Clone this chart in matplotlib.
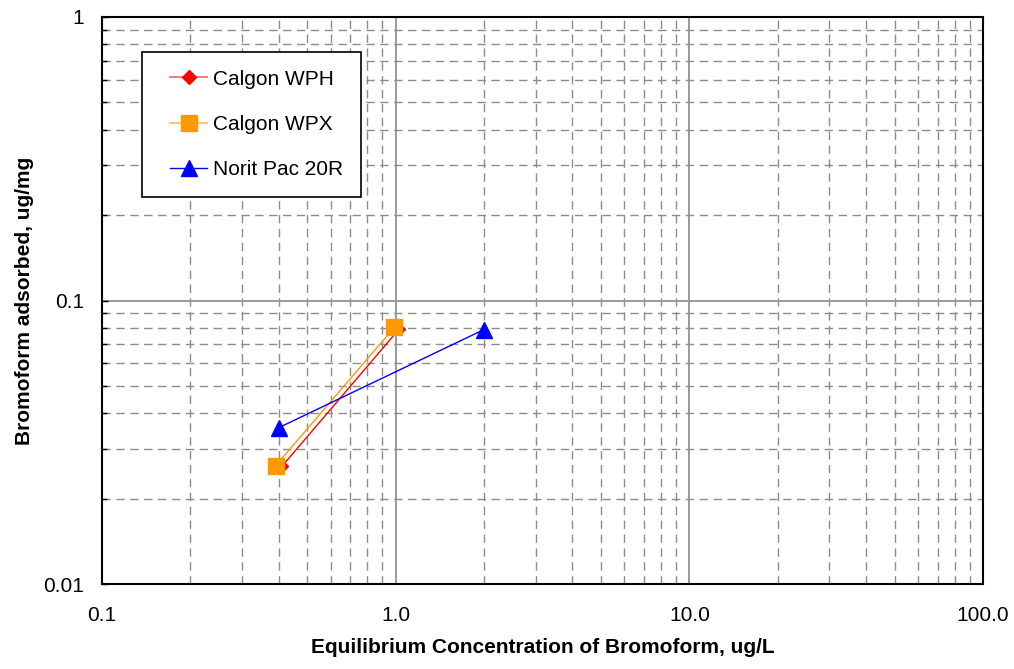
import matplotlib
matplotlib.use("Agg")
import matplotlib.pyplot as plt
from matplotlib.lines import Line2D
from matplotlib.legend_handler import HandlerLine2D
from matplotlib.ticker import FixedLocator, FixedFormatter, LogLocator, NullFormatter

plt.rcParams['font.family'] = ['Liberation Sans', 'DejaVu Sans']

series_names = ["Calgon WPH", "Calgon WPX", "Norit Pac 20R"]
wph_x = [0.41, 1.03]
wph_y = [0.026, 0.0795]
wpx_x = [0.39, 0.99]
wpx_y = [0.0261, 0.0804]
norit_x = [0.40, 2.0]
norit_y = [0.0356, 0.079]
x_ticks = [0.1, 1.0, 10.0, 100.0]
x_ticklabels = ["0.1", "1.0", "10.0", "100.0"]
y_ticks = [0.01, 0.1, 1]
y_ticklabels = ["0.01", "0.1", "1"]

fig = plt.figure(figsize=(10.14, 6.69), dpi=100)
ax = fig.add_axes([102/1014, 1-584/669, (983-102)/1014, (584-17)/669])
ax.set_xscale('log')
ax.set_yscale('log')
ax.set_xlim(0.1, 100)
ax.set_ylim(0.01, 1)

ax.grid(which='major', color='#9a9a9a', linestyle='-', linewidth=1.4)
ax.grid(which='minor', color='#8c8c8c', linestyle=(0, (6, 4)), linewidth=1.0)
ax.set_axisbelow(True)

ax.plot(wph_x, wph_y, color='#FF0000', linewidth=1.0, marker='D', markersize=6,
        markerfacecolor='#FF0000', markeredgecolor='#FF0000', zorder=2)
ax.plot(wpx_x, wpx_y, color='#FF9900', linewidth=1.0, marker='s', markersize=11.5,
        markerfacecolor='#FF9900', markeredgecolor='#FF9900', zorder=3)
ax.plot(norit_x, norit_y, color='#0000FF', linewidth=1.0, marker='^', markersize=12,
        markerfacecolor='#0000FF', markeredgecolor='#0000FF', zorder=3)

ax.xaxis.set_major_locator(FixedLocator(x_ticks))
ax.xaxis.set_major_formatter(FixedFormatter(x_ticklabels))
ax.yaxis.set_major_locator(FixedLocator(y_ticks))
ax.yaxis.set_major_formatter(FixedFormatter(y_ticklabels))
ax.xaxis.set_minor_locator(LogLocator(base=10, subs=range(2, 10)))
ax.yaxis.set_minor_locator(LogLocator(base=10, subs=range(2, 10)))
ax.xaxis.set_minor_formatter(NullFormatter())
ax.yaxis.set_minor_formatter(NullFormatter())

ax.tick_params(axis='both', which='both', direction='in', labelsize=15, color='black')
ax.tick_params(axis='x', which='major', length=0, pad=16)
ax.tick_params(axis='x', which='minor', length=0)
ax.tick_params(axis='y', which='major', length=4, width=1, pad=13)
ax.tick_params(axis='y', which='minor', length=3.5, width=1)

for s in ax.spines.values():
    s.set_color('black')
    s.set_linewidth(1.5)

ax.set_xlabel("Equilibrium Concentration of Bromoform, ug/L", fontsize=15,
              fontweight='bold')
ax.set_ylabel("Bromoform adsorbed, ug/mg", fontsize=15, fontweight='bold')
ax.xaxis.set_label_coords(0.5, (584-638)/567)
ax.yaxis.set_label_coords((34-102)/881, 0.5)

handles = [
    Line2D([], [], color='#FF6060', linewidth=1.2, marker='D', markersize=7,
           markerfacecolor='#FF0000', markeredgecolor='#FF0000'),
    Line2D([], [], color='#FFC870', linewidth=1.5, marker='s', markersize=11.5,
           markerfacecolor='#FF9900', markeredgecolor='#FF9900'),
    Line2D([], [], color='#0000FF', linewidth=1.0, marker='^', markersize=12,
           markerfacecolor='#0000FF', markeredgecolor='#0000FF'),
]
hmap = {h: HandlerLine2D(xpad=0.5) for h in handles}
leg = ax.legend(handles, series_names, loc='upper left', handler_map=hmap,
                bbox_to_anchor=((142-102)/881, (584-52)/567), fontsize=15,
                frameon=True, fancybox=False, shadow=False, framealpha=1,
                edgecolor='black', borderpad=0.85, labelspacing=1.26,
                handlelength=2.27, handletextpad=0.3, borderaxespad=0)
leg.get_frame().set_linewidth(1.2)

fig.savefig("out.png", dpi=100)
